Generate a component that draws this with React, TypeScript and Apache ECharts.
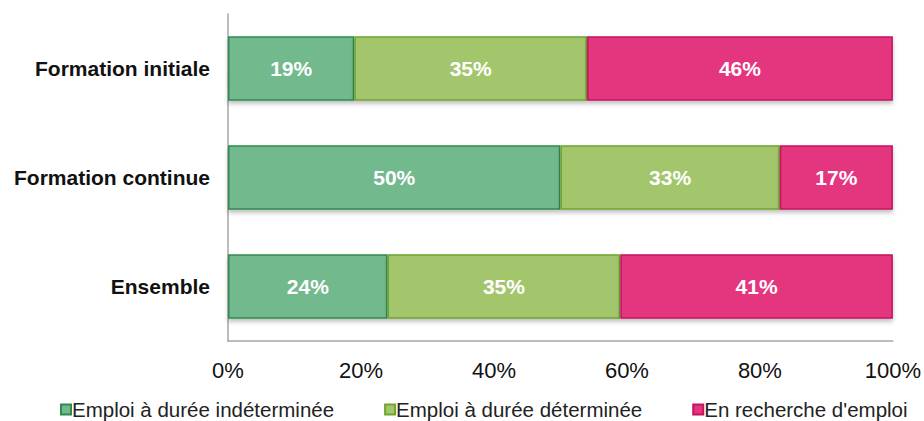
import React, { useEffect, useRef } from "react";
import * as echarts from "echarts";

const categories = ["Ensemble", "Formation continue", "Formation initiale"];
const seriesNames = ["Emploi à durée indéterminée", "Emploi à durée déterminée", "En recherche d'emploi"];
const cdi = [24, 50, 19];
const cdd = [35, 33, 35];
const recherche = [41, 17, 46];
const xTicks = [0, 20, 40, 60, 80, 100];

const fills = ["#72b98d", "#a3c66d", "#e4357f"];
const borders = ["#2f8a4f", "#6ea52f", "#c5135d"];

export default function App() {
  const ref = useRef<HTMLDivElement>(null);
  useEffect(() => {
    if (!ref.current) return;
    const chart = echarts.init(ref.current, null, { renderer: "svg" });
    const data = [cdi, cdd, recherche];
    chart.setOption({
      animation: false,
      grid: { left: 228, right: 30, top: 14, bottom: 80, containLabel: false },
      legend: {
        top: 399,
        left: 60,
        padding: 0,
        itemWidth: 10,
        itemHeight: 10,
        itemGap: 50,
        icon: "rect",
        textStyle: { fontFamily: "Liberation Sans, Arial", fontSize: 20.5, color: "#222", padding: [0, 0, 0, -4] },
        data: seriesNames,
      },
      xAxis: {
        type: "value",
        min: 0,
        max: xTicks[xTicks.length - 1],
        interval: 20,
        axisLine: { show: true, lineStyle: { color: "#a6a6a6", width: 1.5 } },
        axisTick: { show: false },
        splitLine: { show: false },
        axisLabel: {
          formatter: (v: number) => v + "%",
          fontFamily: "Liberation Sans, Arial",
          fontSize: 22,
          color: "#111",
          margin: 18,
        },
      },
      yAxis: {
        type: "category",
        data: categories,
        axisLine: { show: true, lineStyle: { color: "#a6a6a6", width: 1.5 } },
        axisTick: { show: false },
        axisLabel: {
          fontFamily: "Liberation Sans, Arial",
          fontSize: 21,
          fontWeight: "bold",
          color: "#111",
          margin: 18,
        },
      },
      series: seriesNames.map((name, i) => ({
        name,
        type: "bar",
        stack: "total",
        barWidth: "59%",
        data: data[i],
        itemStyle: {
          color: fills[i],
          borderColor: borders[i],
          borderWidth: 1.5,
          shadowColor: "rgba(0,0,0,0.25)",
          shadowBlur: 4,
          shadowOffsetY: 3,
        },
        label: {
          show: true,
          position: "inside",
          formatter: (p: any) => p.value + "%",
          color: "#fff",
          fontFamily: "Liberation Sans, Arial",
          fontSize: 21,
          fontWeight: "bold",
        },
      })),
    });
    return () => chart.dispose();
  }, []);
  return <div ref={ref} style={{ width: 924, height: 421, position: "absolute", left: 0, top: 0 }} />;
}
